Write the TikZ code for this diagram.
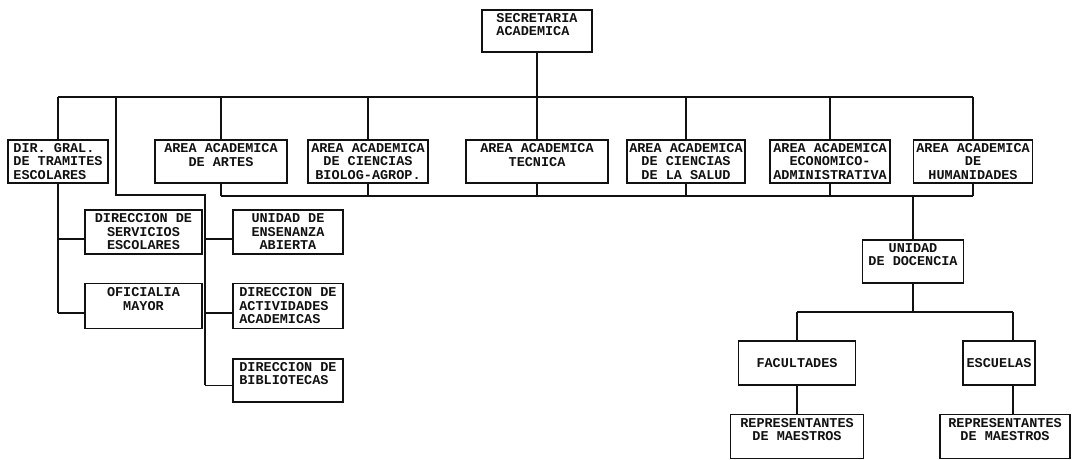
\documentclass[tikz,border=0pt]{standalone}
\usepackage{fontspec}
\usepackage{tikz}
\usetikzlibrary{positioning}
\newfontfamily\chartfont{Liberation Mono}
\definecolor{ink}{HTML}{111111}
\tikzset{
  orgbox/.style={draw=ink, line width=1.4pt, align=center, inner xsep=2pt,
    inner ysep=1pt, minimum height=43pt, text=ink,
    font=\chartfont\bfseries\fontsize{13.5}{13.5}\selectfont},
  leftbox/.style={orgbox, align=left},
  link/.style={draw=ink, line width=1.4pt}
}

\begin{document}
\begin{tikzpicture}[x=1pt, y=-1pt, node distance=28pt]
    \useasboundingbox (0,0) rectangle (1076,460);
    \node[leftbox, minimum width=110pt, minimum height=42pt] (sec) at (537,31) {SECRETARIA\\ACADEMICA\\\mbox{}};
    \node[leftbox, minimum width=100pt] (dir) at (58,161.5) {DIR. GRAL.\\DE TRAMITES\\ESCOLARES};
    \node[orgbox, minimum width=132pt] (art) at (221,161.5) {AREA ACADEMICA\\DE ARTES\\\mbox{}};
    \node[orgbox, minimum width=120pt] (bio) at (368,161.5) {AREA ACADEMICA\\DE CIENCIAS\\BIOLOG-AGROP.};
    \node[orgbox, minimum width=142pt] (tec) at (537,161.5) {AREA ACADEMICA\\TECNICA\\\mbox{}};
    \node[orgbox, minimum width=118pt] (sal) at (686,161.5) {AREA ACADEMICA\\DE CIENCIAS\\DE LA SALUD};
    \node[orgbox, minimum width=120pt] (eco) at (830,161.5) {AREA ACADEMICA\\ECONOMICO-\\ADMINISTRATIVA};
    \node[orgbox, minimum width=119pt] (hum) at (973,161.5) {AREA ACADEMICA\\DE\\HUMANIDADES};
    \node[orgbox, minimum width=117pt, minimum height=44pt] (serv) at (143.5,232) {DIRECCION DE\\SERVICIOS\\ESCOLARES};
    \node[orgbox, minimum width=117pt, minimum height=45pt, below=of serv] (ofi) {OFICIALIA\\MAYOR\\\mbox{}};
    \node[orgbox, minimum width=110pt, minimum height=44pt] (ens) at (288,232) {UNIDAD DE\\ENSENANZA\\ABIERTA};
    \node[leftbox, minimum width=110pt, minimum height=45pt, below=of ens] (act) {DIRECCION DE\\ACTIVIDADES\\ACADEMICAS};
    \node[leftbox, minimum width=110pt, below=29pt of act] (bib) {DIRECCION DE\\BIBLIOTECAS\\\mbox{}};
    \node[orgbox, minimum width=101pt] (uni) at (913,261.5) {UNIDAD\\DE DOCENCIA\\\mbox{}};
    \node[orgbox, minimum width=117pt, minimum height=44pt] (fac) at (797,363) {FACULTADES};
    \node[orgbox, minimum width=72pt, minimum height=44pt] (esc) at (999,363) {ESCUELAS};
    \node[orgbox, minimum width=133pt, minimum height=44pt, below=of fac] (rep1) {REPRESENTANTES\\DE MAESTROS\\\mbox{}};
    \node[orgbox, minimum width=130pt, minimum height=44pt, below=of esc, xshift=6pt] (rep2) {REPRESENTANTES\\DE MAESTROS\\\mbox{}};
    \coordinate (bus1) at (0,97);
    \coordinate (bus2) at (0,196);
    \coordinate (bus3) at (0,312);
    \coordinate (tap) at (116,97);
    \coordinate (elbow) at (205,195);
    \coordinate (escx) at ([xshift=14pt]esc.north);
    \coordinate (servstub) at ([yshift=-7pt]serv.west);
    \coordinate (ofistub) at ([yshift=-7pt]ofi.west);
    \coordinate (ensstub) at ([yshift=-7pt]ens.west);
    \coordinate (actstub) at ([yshift=-7pt]act.west);
    \coordinate (bibstub) at ([yshift=-5pt]bib.west);
    \draw[link] (sec.south) -- (tec.north);
    \draw[link] (dir.north |- bus1) -- (hum.north |- bus1);
    \foreach \n in {dir,art,bio,sal,eco,hum}
      \draw[link] (\n.north |- bus1) -- (\n.north);
    \draw[link] (art.south |- bus2) -- (hum.south |- bus2);
    \foreach \n in {art,bio,tec,sal,eco,hum}
      \draw[link] (\n.south) -- (\n.south |- bus2);
    \draw[link] (dir.south) -- (dir.south |- ofistub);
    \draw[link] (dir.south |- servstub) -- (servstub);
    \draw[link] (dir.south |- ofistub) -- (ofistub);
    \draw[link] (tap) |- (elbow) -- (elbow |- bibstub);
    \draw[link] (elbow |- ensstub) -- (ensstub);
    \draw[link] (elbow |- actstub) -- (actstub);
    \draw[link] (elbow |- bibstub) -- (bibstub);
    \draw[link] (uni.north |- bus2) -- (uni.north);
    \draw[link] (uni.south) -- (uni.south |- bus3);
    \draw[link] (fac.north |- bus3) -- (escx |- bus3);
    \draw[link] (fac.north |- bus3) -- (fac.north);
    \draw[link] (escx |- bus3) -- (escx);
    \draw[link] (fac.south) -- (rep1.north);
    \draw[link] (esc.south -| escx) -- (rep2.north -| escx);
  \end{tikzpicture}
\end{document}
